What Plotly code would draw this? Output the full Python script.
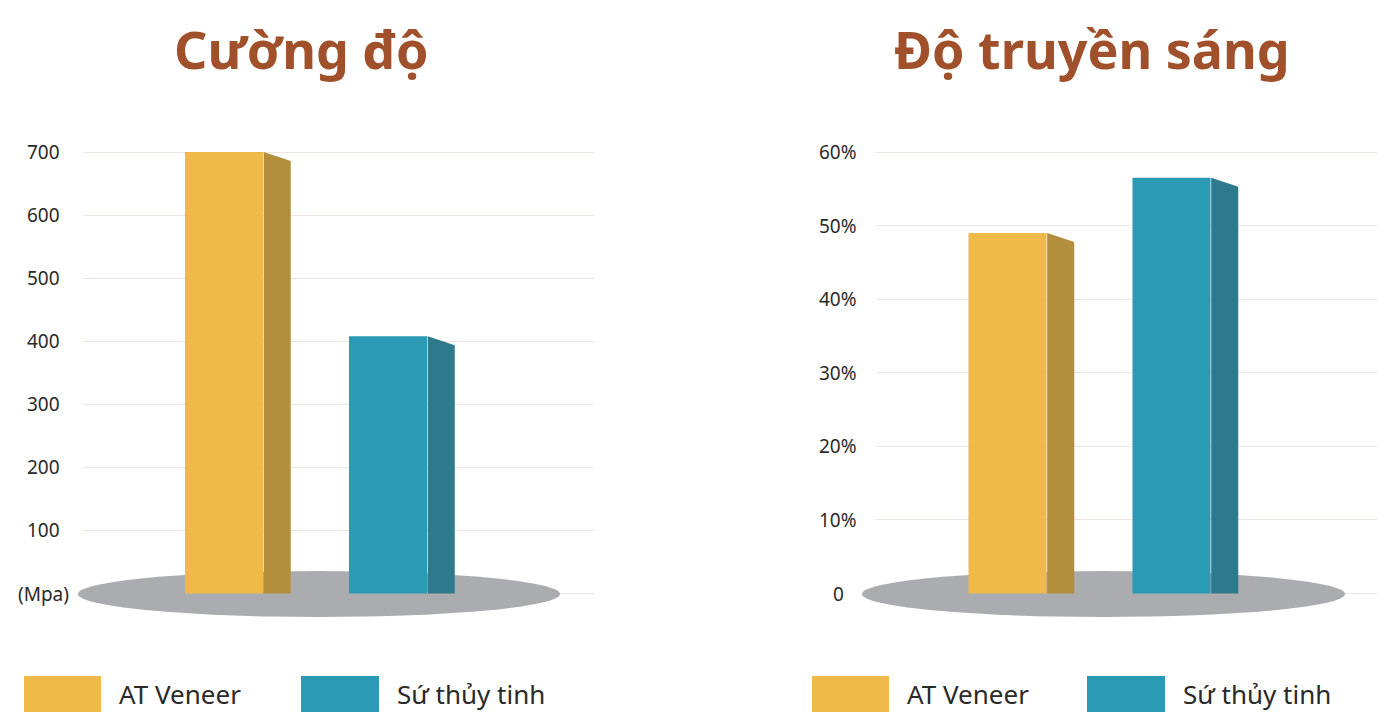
import plotly.graph_objects as go

# ---- data ----
series_names = ["AT Veneer", "Sứ thủy tinh"]
strength_mpa = [700, 408]          # Cường độ
transmission_pct = [49, 56.5]      # Độ truyền sáng
strength_ticks = [0, 100, 200, 300, 400, 500, 600, 700]
strength_ticktext = ["(Mpa)", "100", "200", "300", "400", "500", "600", "700"]
trans_ticks = [0, 10, 20, 30, 40, 50, 60]
trans_ticktext = ["0", "10%", "20%", "30%", "40%", "50%", "60%"]
titles = ["Cường độ", "Độ truyền sáng"]

# ---- style ----
PAGE_W, PAGE_H = 1400, 727
OFF = 8                      # default body margin of the html page
W, H = PAGE_W - 2 * OFF, PAGE_H - 2 * OFF
front_colors = ["#F0BA4A", "#2B9AB4"]
side_colors = ["#B38F3D", "#2F798C"]
title_color = "#A0502A"
grid_color = "#EFE5DE"
ellipse_color = "#ABACAF"
text_color = "#2A2A2A"
FONT = "Noto Sans"

BAR_W = 0.476     # front face width, in category units
DEPTH = 0.165     # side face depth, in category units
DROP_PX = 9       # side face top slant, pixels


def px(x):
    # page pixel -> paper fraction
    return (x - OFF) / W


def py(y):
    return 1 - (y - OFF) / H


# per-panel geometry (page pixels)
panels = [
    dict(vals=strength_mpa, ticks=strength_ticks, ticktext=strength_ticktext,
         plot_x=(83, 594), first_bar=224, ymax=700, label_x=43,
         ellipse=(78, 560), title_x=301, legend=[(24, 101), (301, 379)]),
    dict(vals=transmission_pct, ticks=trans_ticks, ticktext=trans_ticktext,
         plot_x=(876, 1377), first_bar=1007.5, ymax=60, label_x=838,
         ellipse=(862, 1345), title_x=1092, legend=[(812, 889), (1087, 1165)]),
]
SPACING = 164          # px between bar centres
Y_ZERO, Y_TOP = 593.5, 152   # px of 0 and max gridline
PLOT_TOP, PLOT_BOT = 130, 630

fig = go.Figure()
shapes = []
annotations = []

for p_i, p in enumerate(panels):
    xa = "x" if p_i == 0 else "x2"
    ya = "y" if p_i == 0 else "y2"
    vals = p["vals"]
    idx = list(range(len(vals)))
    unit_px = (Y_ZERO - Y_TOP) / p["ymax"]
    drop = DROP_PX / unit_px

    # front faces
    for i, v in enumerate(vals):
        fig.add_trace(go.Bar(
            x=[idx[i]], y=[v], width=BAR_W,
            marker=dict(color=front_colors[i], line=dict(width=0)),
            xaxis=xa, yaxis=ya, showlegend=False, hoverinfo="skip",
        ))
    # side faces
    for i, v in enumerate(vals):
        xr = idx[i] + BAR_W / 2 + 0.004
        fig.add_trace(go.Scatter(
            x=[xr, xr + DEPTH, xr + DEPTH, xr, xr],
            y=[v, v - drop, 0, 0, v],
            mode="lines", fill="toself", fillcolor=side_colors[i],
            line=dict(width=0), xaxis=xa, yaxis=ya,
            showlegend=False, hoverinfo="skip",
        ))

    x0, x1 = p["plot_x"]
    xr0 = -(p["first_bar"] - x0) / SPACING
    xr1 = (x1 - p["first_bar"]) / SPACING
    yr0 = -(PLOT_BOT - Y_ZERO) / unit_px
    yr1 = p["ymax"] + (Y_TOP - PLOT_TOP) / unit_px

    sfx = "" if p_i == 0 else "2"
    fig.update_layout({
        "xaxis" + sfx: dict(domain=[px(x0), px(x1)], range=[xr0, xr1],
                            visible=False, fixedrange=True,
                            anchor="y" + sfx),
        # gridlines for all ticks above zero; the zero line sits under the ellipse
        "yaxis" + sfx: dict(domain=[py(PLOT_BOT), py(PLOT_TOP)],
                            range=[yr0, yr1], tickvals=p["ticks"][1:],
                            showticklabels=False, showgrid=True,
                            gridcolor=grid_color, gridwidth=1,
                            zeroline=False, showline=False,
                            fixedrange=True, anchor="x" + sfx),
    })

    # zero baseline, then ground ellipse on top of it
    shapes.append(dict(type="line", xref="paper", yref=ya,
                       x0=px(x0), x1=px(x1), y0=0, y1=0,
                       line=dict(color=grid_color, width=1), layer="below"))
    e0, e1 = p["ellipse"]
    shapes.append(dict(type="circle", xref="paper", yref="paper",
                       x0=px(e0), x1=px(e1), y0=py(617), y1=py(571),
                       fillcolor=ellipse_color, line=dict(width=0),
                       layer="below"))

    # centred tick labels
    for t, lbl in zip(p["ticks"], p["ticktext"]):
        annotations.append(dict(
            text=lbl, xref="paper", yref=ya, x=px(p["label_x"]), y=t,
            xanchor="center", yanchor="middle", showarrow=False,
            font=dict(family=FONT, size=19, color=text_color)))

    # title
    annotations.append(dict(
        text="<b>" + titles[p_i] + "</b>", xref="paper", yref="paper",
        x=px(p["title_x"]), y=py(48), xanchor="center", yanchor="middle",
        showarrow=False, font=dict(family=FONT, size=52, color=title_color)))

    # legend
    for i, (lx0, lx1) in enumerate(p["legend"]):
        shapes.append(dict(type="rect", xref="paper", yref="paper",
                           x0=px(lx0), x1=px(lx1), y0=py(712), y1=py(676),
                           fillcolor=front_colors[i], line=dict(width=0)))
        annotations.append(dict(
            text=series_names[i], xref="paper", yref="paper",
            x=px(lx1 + 16), y=py(694), xanchor="left", yanchor="middle",
            showarrow=False, font=dict(family=FONT, size=26, color=text_color)))

fig.update_layout(
    width=W, height=H,
    margin=dict(l=0, r=0, t=0, b=0),
    paper_bgcolor="white",
    plot_bgcolor="rgba(0,0,0,0)",
    barmode="overlay",
    showlegend=False,
    shapes=shapes,
    annotations=annotations,
)

fig.write_html("out.html")
